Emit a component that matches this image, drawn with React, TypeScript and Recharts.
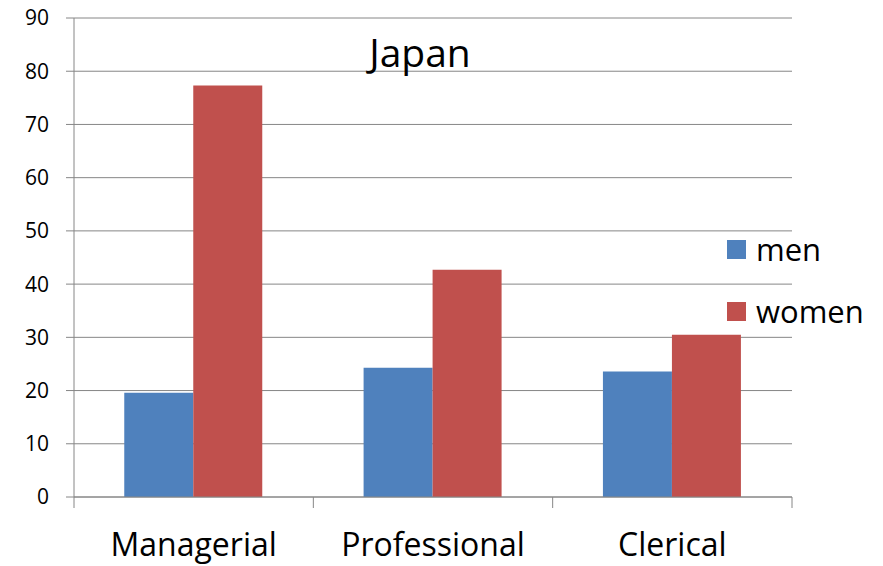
import { BarChart, Bar, XAxis, YAxis, CartesianGrid } from 'recharts'

const categories = ['Managerial', 'Professional', 'Clerical']
const menValues = [19.6, 24.3, 23.6]
const womenValues = [77.3, 42.7, 30.5]
const yTicks = [0, 10, 20, 30, 40, 50, 60, 70, 80, 90]

const MEN = '#4F81BD'
const WOMEN = '#C0504D'
const AXIS = '#868686'
const FONT = '"Open Sans", Lato, sans-serif'

const W = 883
const H = 566
const MARGIN = { top: 18, right: 91, bottom: 0, left: 0 }
const Y_WIDTH = 74

const data = categories.map((name, i) => ({ name, men: menValues[i], women: womenValues[i] }))

// band width, used to put tick marks between the categories like the original
const band = (W - MARGIN.left - MARGIN.right - Y_WIDTH) / categories.length

function CategoryTick({ x, y, payload, index }: any) {
  return (
    <g>
      <line x1={x - band / 2} y1={y} x2={x - band / 2} y2={y + 11} stroke={AXIS} />
      {index === categories.length - 1 && (
        <line x1={x + band / 2} y1={y} x2={x + band / 2} y2={y + 11} stroke={AXIS} />
      )}
      <text x={x} y={y + 59} textAnchor="middle" fontSize={32} fill="#000" fontFamily={FONT}>
        {payload.value}
      </text>
    </g>
  )
}

const legendItems = [
  { label: 'men', color: MEN },
  { label: 'women', color: WOMEN },
]

export default function App() {
  return (
    <div style={{ position: 'absolute', left: 0, top: 0, width: W, height: H, background: '#fff' }}>
      <BarChart width={W} height={H} data={data} margin={MARGIN} barCategoryGap="21%" barGap={0}>
        <CartesianGrid vertical={false} stroke={AXIS} strokeWidth={1} />
        <XAxis
          dataKey="name"
          stroke={AXIS}
          tickLine={false}
          tickSize={0}
          tickMargin={0}
          tick={<CategoryTick />}
          height={69}
          interval={0}
        />
        <YAxis
          domain={[0, 90]}
          ticks={yTicks}
          width={Y_WIDTH}
          stroke={AXIS}
          tickSize={8}
          tickMargin={17}
          tick={{ fill: '#000', fontSize: 21, fontFamily: FONT }}
          interval={0}
        />
        <Bar dataKey="men" fill={MEN} isAnimationActive={false} />
        <Bar dataKey="women" fill={WOMEN} isAnimationActive={false} />
      </BarChart>
      <div style={{ position: 'absolute', left: 727, top: 218, fontFamily: FONT }}>
        {legendItems.map((it) => (
          <div key={it.label} style={{ display: 'flex', alignItems: 'center', height: 62 }}>
            <span style={{ width: 19, height: 19, background: it.color, display: 'inline-block', marginRight: 10 }} />
            <span style={{ fontSize: 31, color: '#000' }}>{it.label}</span>
          </div>
        ))}
      </div>
      <div
        style={{
          position: 'absolute',
          left: 420,
          top: 25,
          transform: 'translateX(-50%)',
          fontSize: 39,
          fontFamily: FONT,
          color: '#000',
        }}
      >
        Japan
      </div>
    </div>
  )
}
